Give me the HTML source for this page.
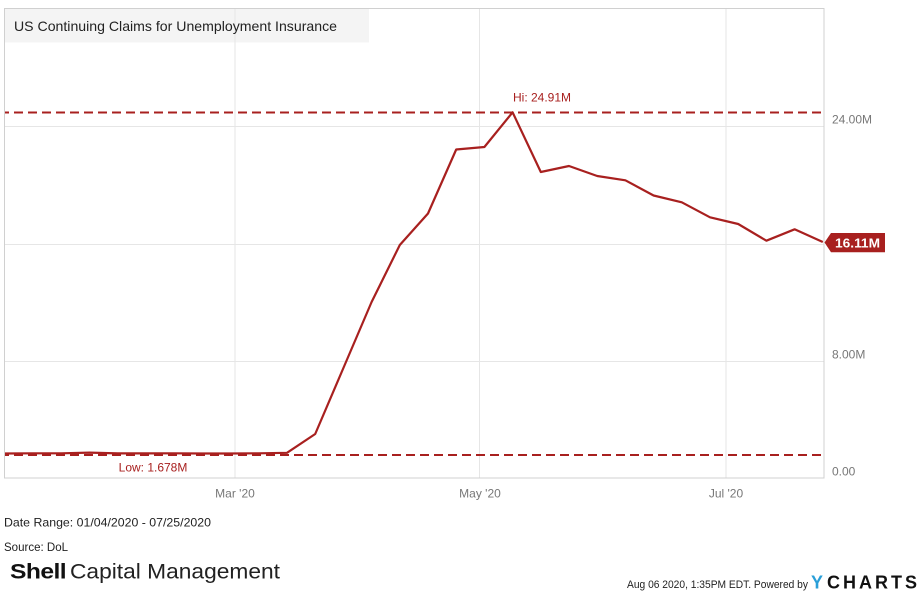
<!DOCTYPE html>
<html><head><meta charset="utf-8"><style>
html,body{margin:0;padding:0;background:#fff;width:919px;height:596px;overflow:hidden}
svg{display:block}
text{font-family:"Liberation Sans",Arial,sans-serif}
</style></head><body>
<svg width="919" height="596" viewBox="0 0 919 596" xmlns="http://www.w3.org/2000/svg">
<rect x="0" y="0" width="919" height="596" fill="#fff"/>
<!-- title box -->
<rect x="5" y="9" width="364" height="33.5" fill="#f4f4f4"/>
<!-- grid -->
<g stroke="#e6e6e6" stroke-width="1">
<line x1="4.5" y1="126.5" x2="824" y2="126.5"/>
<line x1="4.5" y1="244.5" x2="824" y2="244.5"/>
<line x1="4.5" y1="361.5" x2="824" y2="361.5"/>
<line x1="235" y1="8.5" x2="235" y2="478"/>
<line x1="479.5" y1="8.5" x2="479.5" y2="478"/>
<line x1="726" y1="8.5" x2="726" y2="478"/>
</g>
<!-- border -->
<rect x="4.5" y="8.5" width="819.5" height="469.5" fill="none" stroke="#d0d0d0" stroke-width="1"/>
<text x="14" y="31" font-size="14" fill="#222" textLength="323" lengthAdjust="spacingAndGlyphs">US Continuing Claims for Unemployment Insurance</text>
<!-- hi/low dashed -->
<g stroke="#a8201f" stroke-width="2" stroke-dasharray="9 5" stroke-dashoffset="5">
<line x1="5" y1="112.5" x2="824" y2="112.5"/>
<line x1="5" y1="455" x2="824" y2="455"/>
</g>
<!-- series -->
<polyline fill="none" stroke="#a8201f" stroke-width="2.2" stroke-linejoin="round" points="5,453.5 33.2,453.3 61.4,453.3 89.6,452.6 117.8,453.4 146,453.4 174.2,453.3 202.4,453.5 230.6,453.5 258.8,453.3 287,452.8 315.2,434 343.4,368 371.6,302 399.8,245 428,213.5 456.2,149.5 484.4,147 512.6,112.3 540.8,172 569,166 597.2,176 625.4,180.3 653.6,195.5 681.8,202.3 710,217.3 738.2,224 766.4,240.7 794.6,229.3 822.8,242"/>
<text x="513" y="101.5" font-size="12" fill="#a8201f">Hi: 24.91M</text>
<text x="153" y="471.5" font-size="12" fill="#a8201f" text-anchor="middle">Low: 1.678M</text>
<!-- y labels -->
<g font-size="12" fill="#777">
<text x="832" y="123.5">24.00M</text>
<text x="832" y="358.5">8.00M</text>
<text x="832" y="475.5">0.00</text>
</g>
<!-- value tag -->
<polygon points="824.5,242.5 831,233 885,233 885,252.3 831,252.3" fill="#a8201f"/>
<text x="835" y="247.5" font-size="13" font-weight="bold" fill="#fff" textLength="45" lengthAdjust="spacingAndGlyphs">16.11M</text>
<!-- x labels -->
<g font-size="12" fill="#777" text-anchor="middle">
<text x="235" y="497.5">Mar '20</text>
<text x="480" y="497.5">May '20</text>
<text x="726" y="497.5">Jul '20</text>
</g>
<!-- footer -->
<text x="4" y="526.5" font-size="12" fill="#222" textLength="207" lengthAdjust="spacingAndGlyphs">Date Range: 01/04/2020 - 07/25/2020</text>
<text x="4" y="551" font-size="12" fill="#222" textLength="64" lengthAdjust="spacingAndGlyphs">Source: DoL</text>
<text x="10" y="578.5" font-size="21" font-weight="bold" fill="#111" textLength="56" lengthAdjust="spacingAndGlyphs" letter-spacing="-0.5">Shell</text>
<text x="70" y="578.5" font-size="21" fill="#222" textLength="210" lengthAdjust="spacingAndGlyphs">Capital Management</text>
<text x="627" y="588" font-size="11" fill="#222" textLength="181" lengthAdjust="spacingAndGlyphs">Aug 06 2020, 1:35PM EDT.  Powered by</text>
<text x="811" y="588.5" font-size="18" font-weight="bold" fill="#2a9fd8">Y</text>
<text x="827" y="588.5" font-size="18" font-weight="bold" fill="#111" textLength="90" lengthAdjust="spacing">CHARTS</text>
</svg>
</body></html>
